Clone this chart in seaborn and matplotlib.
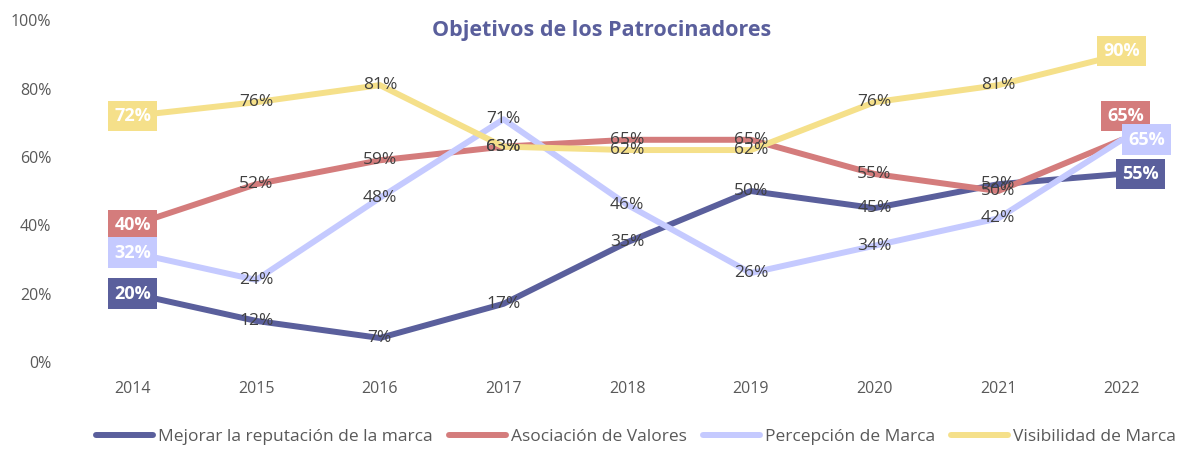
import seaborn as sns
import matplotlib.pyplot as plt
import pandas as pd

sns.set_style("white")
plt.rcParams["font.family"] = ["Open Sans", "DejaVu Sans"]

years = ["2014", "2015", "2016", "2017", "2018", "2019", "2020", "2021", "2022"]
series_names = ["Mejorar la reputación de la marca", "Asociación de Valores",
                "Percepción de Marca", "Visibilidad de Marca"]
mejorar = [20, 12, 7, 17, 35, 50, 45, 52, 55]
asociacion = [40, 52, 59, 63, 65, 65, 55, 50, 65]
percepcion = [32, 24, 48, 71, 46, 26, 34, 42, 65]
visibilidad = [72, 76, 81, 63, 62, 62, 76, 81, 90]
colors = ["#5A5F9C", "#D47C7C", "#C5CAFF", "#F5E08A"]

rows = []
for name, vals in zip(series_names, [mejorar, asociacion, percepcion, visibilidad]):
    for i, v in enumerate(vals):
        rows.append({"x": i, "year": years[i], "serie": name, "valor": v})
df = pd.DataFrame(rows)

fig = plt.figure(figsize=(11.98, 4.49), dpi=100)
ax = fig.add_axes([0.059, 0.194, 0.929, 0.761])
sns.lineplot(data=df, x="x", y="valor", hue="serie", palette=colors,
             linewidth=4.3, ax=ax, sort=False)

# data labels for middle points
for name in series_names:
    sub = df[df["serie"] == name].reset_index(drop=True)
    for k in range(1, len(sub) - 1):
        r = sub.loc[k]
        ax.text(r["x"], r["valor"], f"{r['valor']}%", ha="center", va="center",
                fontsize=12.5, color="#404040")

# boxed endpoint labels: (dx, dy) for first and last point
end_offsets = {
    series_names[0]: ((0, 0), (0.15, 0)),
    series_names[1]: ((0, 0), (0.03, 7)),
    series_names[2]: ((0, 0), (0.2, 0)),
    series_names[3]: ((0, 0), (0, 1)),
}
for name, col in zip(series_names, colors):
    sub = df[df["serie"] == name].reset_index(drop=True)
    for idx, (dx, dy) in zip([0, len(sub) - 1], end_offsets[name]):
        r = sub.loc[idx]
        ax.text(r["x"] + dx, r["valor"] + dy, f"{r['valor']}%",
                ha="center", va="center", fontsize=13,
                fontweight="bold", color="white",
                bbox=dict(boxstyle="square,pad=0.35", fc=col, ec="none"))

ax.set_xlim(-0.5, 8.5)
ax.set_ylim(0, 100)
ax.set_xticks(range(len(years)))
ax.set_xticklabels(years)
ax.set_yticks([0, 20, 40, 60, 80, 100])
ax.set_yticklabels([f"{v}%" for v in [0, 20, 40, 60, 80, 100]])
ax.tick_params(axis="both", length=0, labelsize=11.5, labelcolor="#595959")
ax.tick_params(axis="x", pad=14)
ax.tick_params(axis="y", pad=14)
ax.set_xlabel("")
ax.set_ylabel("")
sns.despine(ax=ax, left=True, bottom=True)

fig.text(0.502, 0.932, "Objetivos de los Patrocinadores", fontsize=15.5,
         fontweight="bold", color="#5A5F9C", ha="center", va="center")

handles, labels = ax.get_legend_handles_labels()
ax.get_legend().remove()
fig.legend(handles, labels, loc="center", bbox_to_anchor=(0.531, 0.026),
           ncol=4, frameon=False, fontsize=12.5, handlelength=3.3,
           columnspacing=0.9, handletextpad=0.3, labelcolor="#595959")

fig.savefig("out.png", dpi=100)
